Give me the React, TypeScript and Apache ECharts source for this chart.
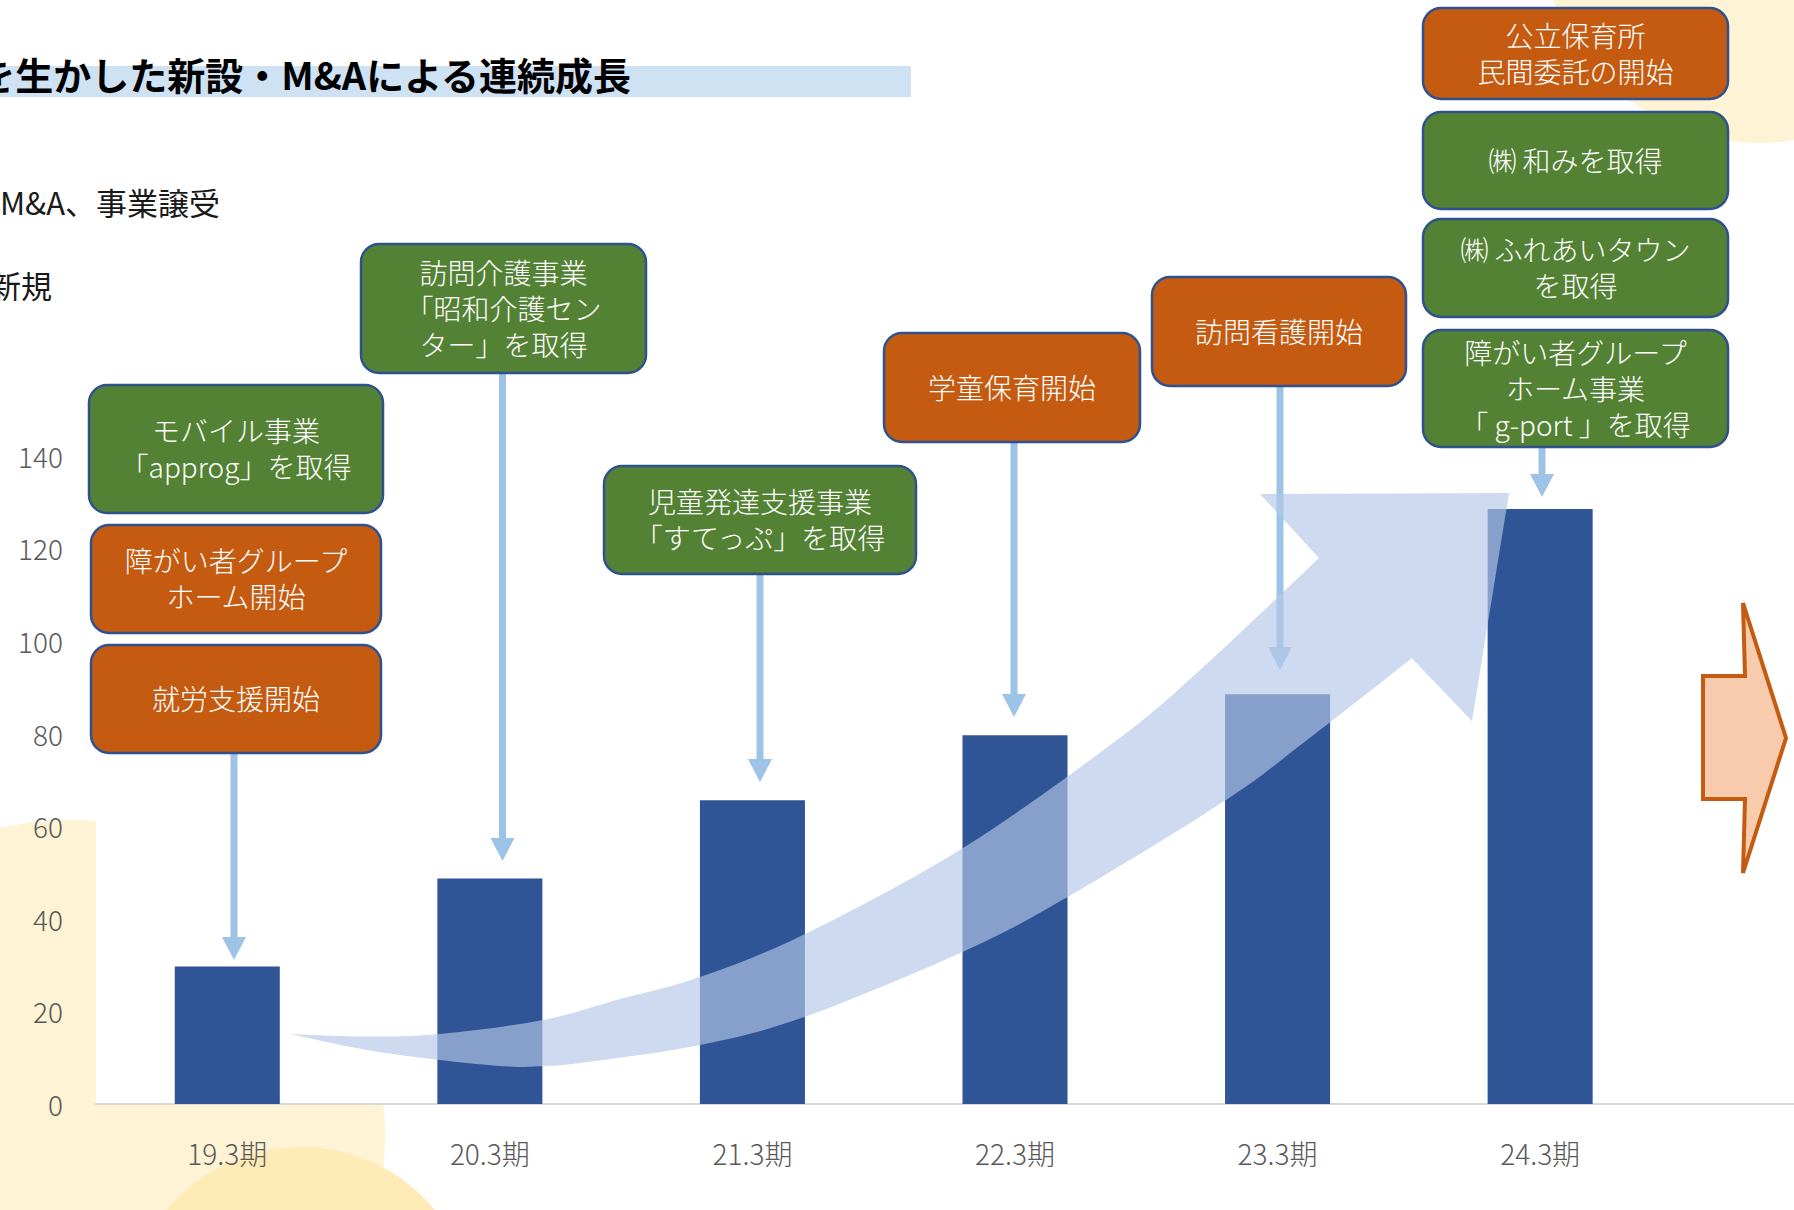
import React, { useEffect, useRef } from "react";
import * as echarts from "echarts";

// ---------------- data ----------------
const categories = ["19.3期", "20.3期", "21.3期", "22.3期", "23.3期", "24.3期", ""];
const values = [29.7, 48.7, 65.6, 79.6, 88.5, 128.5, null];
const yMin = 0;
const yMax = 160;
const yInterval = 20;

const titleText = "を生かした新設・M&Aによる連続成長";
const legendTexts = ["M&A、事業譲受", "新規"];

// event boxes: text + kind ("ma" = M&A/acquisition, "new" = new start)
const eventTexts = [
  "モバイル事業\n「approg」を取得",
  "障がい者グループ\nホーム開始",
  "就労支援開始",
  "訪問介護事業\n「昭和介護セン\nター」を取得",
  "児童発達支援事業\n「すてっぷ」を取得",
  "学童保育開始",
  "訪問看護開始",
  "公立保育所\n民間委託の開始",
  "㈱ 和みを取得",
  "㈱ ふれあいタウン\nを取得",
  "障がい者グループ\nホーム事業\n「 g-port 」を取得",
];
const eventKinds = ["ma", "new", "new", "ma", "ma", "new", "new", "new", "ma", "ma", "ma"];

// ---------------- layout (pixels) ----------------
const boxLayout = [
  [89, 385, 294, 128],
  [91, 525, 290, 108],
  [91, 645, 290, 108],
  [361, 244, 285, 129],
  [604, 466, 312, 108],
  [884, 333, 256, 109],
  [1152, 277, 254, 109],
  [1423, 8, 305, 91],
  [1423, 112, 305, 97],
  [1423, 219, 305, 98],
  [1423, 330, 305, 117],
];
// connector arrows: x, start y, tip y
const connectorLayout = [
  [234, 753, 960],
  [502.5, 373, 861],
  [760, 574, 782],
  [1014, 442, 717],
  [1280, 386, 670],
  [1542, 447, 497],
];

const bigArrowUpper = [
  [290, 1034], [365, 1036.5], [440, 1034], [543, 1020], [620, 999], [700, 977],
  [805, 934], [963, 848], [1117, 740], [1200, 670], [1319, 558],
];
const bigArrowLower = [
  [290, 1034], [367, 1050], [440, 1060], [508, 1066.5], [545, 1066], [580, 1063],
  [700, 1045], [805, 1016.7], [963, 951.7], [1068, 896.7], [1226, 800], [1307, 740],
  [1411.7, 658.3],
];
const bigArrowHead = [[1260, 494], [1509, 493], [1472, 721]];

const FONT = '"Noto Sans CJK JP", "Noto Sans", sans-serif';
const GREEN = "#548235";
const ORANGE = "#C55A11";
const BAR = "#2F5597";
const CONNECTOR = "#9DC3E6";

function smooth(pts: number[][], n = 10): number[][] {
  const out: number[][] = [];
  for (let i = 0; i < pts.length - 1; i++) {
    const p0 = pts[i - 1] || pts[i];
    const p1 = pts[i];
    const p2 = pts[i + 1];
    const p3 = pts[i + 2] || pts[i + 1];
    for (let k = 0; k < n; k++) {
      const t = k / n;
      const t2 = t * t;
      const t3 = t2 * t;
      const f = (a: number, b: number, c: number, d: number) =>
        0.5 * (2 * b + (-a + c) * t + (2 * a - 5 * b + 4 * c - d) * t2 + (-a + 3 * b - 3 * c + d) * t3);
      out.push([f(p0[0], p1[0], p2[0], p3[0]), f(p0[1], p1[1], p2[1], p3[1])]);
    }
  }
  out.push(pts[pts.length - 1]);
  return out;
}

export default function App() {
  const ref = useRef<HTMLDivElement>(null);

  useEffect(() => {
    if (!ref.current) return;
    const chart = echarts.init(ref.current, undefined, { renderer: "svg" });

    const graphics: any[] = [];

    // background circles
    graphics.push({ type: "circle", z: -10, silent: true, shape: { cx: 1760, cy: -78, r: 221 }, style: { fill: "#FFF3D5" } });
    graphics.push({ type: "circle", z: -10, silent: true, shape: { cx: 70, cy: 1135, r: 315 }, style: { fill: "#FFF3D5" } });
    graphics.push({ type: "circle", z: -9, silent: true, shape: { cx: 301, cy: 1321, r: 174 }, style: { fill: "#FEEBB5" } });

    // title band + title
    graphics.push({ type: "rect", z: 5, shape: { x: 0, y: 66, width: 911, height: 31 }, style: { fill: "#CFE2F3" } });
    graphics.push({
      type: "text", z: 6,
      style: {
        text: titleText, x: 631, y: 73, fill: "#000",
        font: `bold 38px ${FONT}`, align: "right", verticalAlign: "middle",
        textAlign: "right", textVerticalAlign: "middle",
      },
    });
    // legend-like texts
    const legendPos = [[220, 201], [52, 284]];
    legendTexts.forEach((t, i) => {
      graphics.push({
        type: "text", z: 6,
        style: {
          text: t, x: legendPos[i][0], y: legendPos[i][1], fill: "#1a1a1a",
          font: `31px ${FONT}`, align: "right", verticalAlign: "middle",
          textAlign: "right", textVerticalAlign: "middle",
        },
      });
    });

    // connectors
    connectorLayout.forEach(([x, y1, tip]) => {
      graphics.push({
        type: "line", z: 3, silent: true,
        shape: { x1: x, y1: y1, x2: x, y2: tip - 20 },
        style: { stroke: CONNECTOR, lineWidth: 7 },
      });
      graphics.push({
        type: "polygon", z: 3, silent: true,
        shape: { points: [[x - 12, tip - 23], [x + 12, tip - 23], [x, tip]] },
        style: { fill: CONNECTOR },
      });
    });

    // big curved arrow
    const pts = [
      ...smooth(bigArrowUpper),
      ...bigArrowHead,
      ...smooth(bigArrowLower).reverse(),
    ];
    graphics.push({
      type: "polygon", z: 4, silent: true,
      shape: { points: pts },
      style: { fill: "rgba(180,199,231,0.66)" },
    });

    // right orange arrow
    graphics.push({
      type: "polygon", z: 4, silent: true,
      shape: { points: [[1703, 676], [1745, 676], [1743, 603], [1786, 738], [1743, 873], [1745, 799], [1703, 799]] },
      style: { fill: "#F8CBAD", stroke: "#C55A11", lineWidth: 4, lineJoin: "miter" },
    });

    // event boxes
    eventTexts.forEach((t, i) => {
      const [x, y, w, h] = boxLayout[i];
      graphics.push({
        type: "rect", z: 7,
        shape: { x, y, width: w, height: h, r: 18 },
        style: { fill: eventKinds[i] === "ma" ? GREEN : ORANGE, stroke: "#2F528F", lineWidth: 2.5 },
      });
      graphics.push({
        type: "text", z: 8,
        style: {
          text: t, x: x + w / 2, y: y + h / 2 - 1, fill: "#fff",
          font: `300 28px ${FONT}`, lineHeight: 36,
          align: "center", verticalAlign: "middle",
          textAlign: "center", textVerticalAlign: "middle",
        },
      });
    });

    chart.setOption({
      animation: false,
      backgroundColor: "#fff",
      grid: {
        left: 96, top: 363, right: 0, height: 741,
        show: true, backgroundColor: "#fff", borderWidth: 0, containLabel: false,
      },
      xAxis: {
        type: "category",
        data: categories,
        axisLine: { lineStyle: { color: "#D9D9D9", width: 2 } },
        axisTick: { show: false },
        axisLabel: { color: "#595959", fontSize: 28, fontFamily: FONT, fontWeight: 300, margin: 35 },
      },
      yAxis: {
        type: "value",
        min: yMin, max: yMax, interval: yInterval,
        axisLine: { show: false },
        axisTick: { show: false },
        splitLine: { show: false },
        axisLabel: { color: "#595959", fontSize: 28, fontFamily: FONT, fontWeight: 300, margin: 33, showMaxLabel: false },
      },
      series: [
        {
          type: "bar",
          data: values,
          barWidth: "40%",
          itemStyle: { color: BAR },
          z: 2,
        },
      ],
      graphic: { elements: graphics },
    });

    return () => chart.dispose();
  }, []);

  return (
    <div style={{ position: "fixed", left: 0, top: 0, width: 1794, height: 1210, overflow: "hidden", background: "#fff" }}>
      <div ref={ref} style={{ position: "absolute", left: 0, top: 0, width: 1934, height: 1210 }} />
    </div>
  );
}
